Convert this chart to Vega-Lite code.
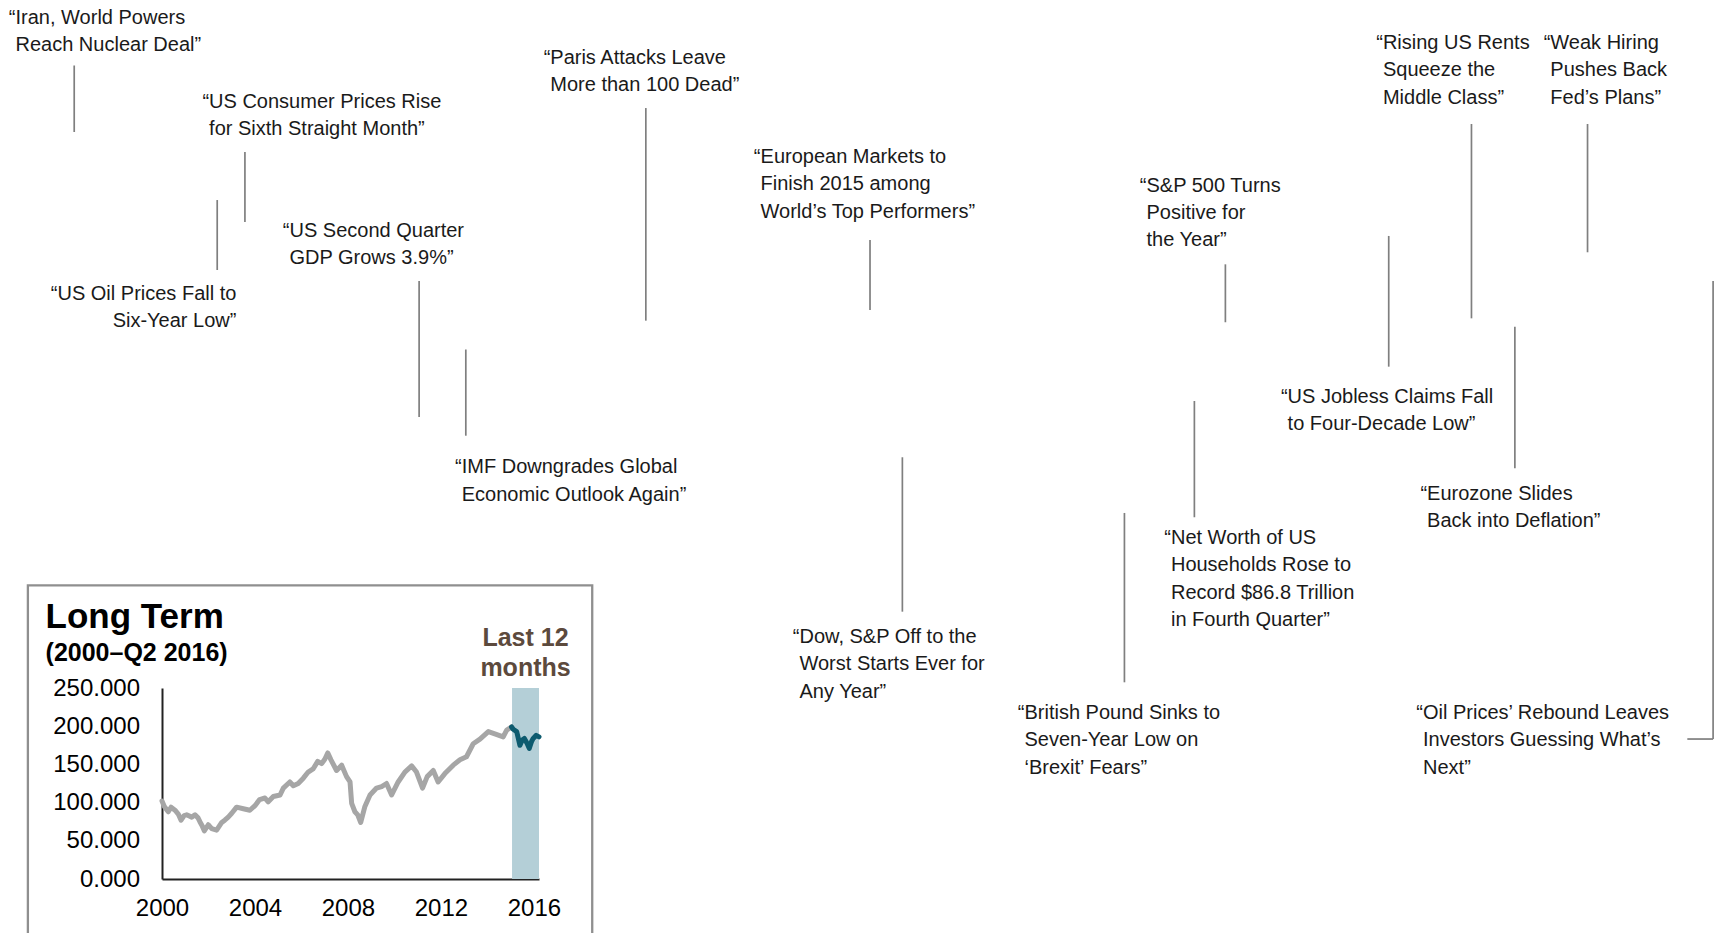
{
  "$schema": "https://vega.github.io/schema/vega-lite/v6.json",
  "usermeta": {"embedOptions": {"actions": false}},
  "width": 1716,
  "height": 933,
  "padding": 0,
  "autosize": {"type": "none"},
  "background": "white",
  "config": {"view": {"stroke": null}, "font": "Liberation Sans"},
  "datasets": {
    "headlines": [
      {"headline": ["Iran, World Powers", "Reach Nuclear Deal”"], "lineDate": "2015-07-13T23:00Z", "lineTop": 7.02, "lineBottom": 14.15, "textDate": "2015-07-01T08:00Z", "textLevel": 2.57},
      {"headline": ["“US Oil Prices Fall to", "Six-Year Low”"], "lineDate": "2015-08-13T17:00Z", "lineTop": 21.44, "lineBottom": 28.94, "textDate": "2015-08-17T20:00Z", "textLevel": 32.15},
      {"headline": ["US Consumer Prices Rise", "for Sixth Straight Month”"], "lineDate": "2015-08-19T16:00Z", "lineTop": 16.29, "lineBottom": 23.79, "textDate": "2015-08-11T23:00Z", "textLevel": 11.58},
      {"headline": ["US Second Quarter", "GDP Grows 3.9%”"], "lineDate": "2015-09-26T03:00Z", "lineTop": 30.12, "lineBottom": 44.69, "textDate": "2015-08-29T06:00Z", "textLevel": 25.40},
      {"headline": ["IMF Downgrades Global", "Economic Outlook Again”"], "lineDate": "2015-10-06T04:00Z", "lineTop": 37.46, "lineBottom": 46.70, "textDate": "2015-10-05T07:00Z", "textLevel": 50.75},
      {"headline": ["Paris Attacks Leave", "More than 100 Dead”"], "lineDate": "2015-11-13T21:00Z", "lineTop": 11.58, "lineBottom": 34.37, "textDate": "2015-10-24T08:00Z", "textLevel": 6.86},
      {"headline": ["European Markets to", "Finish 2015 among", "World’s Top Performers”"], "lineDate": "2016-01-01T02:00Z", "lineTop": 25.72, "lineBottom": 33.23, "textDate": "2015-12-08T13:00Z", "textLevel": 17.44},
      {"headline": ["Dow, S&P Off to the", "Worst Starts Ever for", "Any Year”"], "lineDate": "2016-01-08T01:00Z", "lineTop": 49.01, "lineBottom": 65.56, "textDate": "2015-12-16T22:00Z", "textLevel": 68.90},
      {"headline": ["British Pound Sinks to", "Seven-Year Low on", "‘Brexit’ Fears”"], "lineDate": "2016-02-24T19:00Z", "lineTop": 54.98, "lineBottom": 73.13, "textDate": "2016-02-03T07:00Z", "textLevel": 77.06},
      {"headline": ["Net Worth of US", "Households Rose to", "Record $86.8 Trillion", "in Fourth Quarter”"], "lineDate": "2016-03-10T20:00Z", "lineTop": 42.98, "lineBottom": 55.44, "textDate": "2016-03-05T19:00Z", "textLevel": 58.31},
      {"headline": ["S&P 500 Turns", "Positive for", "the Year”"], "lineDate": "2016-03-17T12:00Z", "lineTop": 28.33, "lineBottom": 34.54, "textDate": "2016-02-29T13:00Z", "textLevel": 20.53},
      {"headline": ["US Jobless Claims Fall", "to Four-Decade Low”"], "lineDate": "2016-04-21T15:00Z", "lineTop": 25.29, "lineBottom": 39.30, "textDate": "2016-03-30T21:00Z", "textLevel": 43.17},
      {"headline": ["Rising US Rents", "Squeeze the", "Middle Class”"], "lineDate": "2016-05-09T10:00Z", "lineTop": 13.29, "lineBottom": 34.12, "textDate": "2016-04-20T09:00Z", "textLevel": 5.23},
      {"headline": ["Eurozone Slides", "Back into Deflation”"], "lineDate": "2016-05-18T18:00Z", "lineTop": 35.02, "lineBottom": 50.19, "textDate": "2016-04-29T21:00Z", "textLevel": 53.54},
      {"headline": ["Weak Hiring", "Pushes Back", "Fed’s Plans”"], "lineDate": "2016-06-03T09:00Z", "lineTop": 13.29, "lineBottom": 27.04, "textDate": "2016-05-26T09:00Z", "textLevel": 5.23},
      {"headline": ["Oil Prices’ Rebound Leaves", "Investors Guessing What’s", "Next”"], "lineDate": "2016-06-30T09:00Z", "lineTop": 30.12, "lineBottom": 79.21, "textDate": "2016-04-29T00:00Z", "textLevel": 77.06, "elbowStart": "2016-06-24T20:00Z"}
    ],
    "longTerm": [
      {"year": 2000.00, "value": 102, "period": "2000–2015"},
      {"year": 2000.10, "value": 95, "period": "2000–2015"},
      {"year": 2000.27, "value": 88, "period": "2000–2015"},
      {"year": 2000.39, "value": 94, "period": "2000–2015"},
      {"year": 2000.56, "value": 90, "period": "2000–2015"},
      {"year": 2000.70, "value": 85, "period": "2000–2015"},
      {"year": 2000.82, "value": 77, "period": "2000–2015"},
      {"year": 2000.95, "value": 83, "period": "2000–2015"},
      {"year": 2001.06, "value": 84, "period": "2000–2015"},
      {"year": 2001.28, "value": 81, "period": "2000–2015"},
      {"year": 2001.42, "value": 84, "period": "2000–2015"},
      {"year": 2001.55, "value": 80, "period": "2000–2015"},
      {"year": 2001.63, "value": 75, "period": "2000–2015"},
      {"year": 2001.72, "value": 70, "period": "2000–2015"},
      {"year": 2001.82, "value": 63, "period": "2000–2015"},
      {"year": 2001.99, "value": 71, "period": "2000–2015"},
      {"year": 2002.14, "value": 66, "period": "2000–2015"},
      {"year": 2002.35, "value": 64, "period": "2000–2015"},
      {"year": 2002.57, "value": 74, "period": "2000–2015"},
      {"year": 2002.70, "value": 77, "period": "2000–2015"},
      {"year": 2002.85, "value": 81, "period": "2000–2015"},
      {"year": 2003.00, "value": 86, "period": "2000–2015"},
      {"year": 2003.21, "value": 94, "period": "2000–2015"},
      {"year": 2003.50, "value": 92, "period": "2000–2015"},
      {"year": 2003.78, "value": 90, "period": "2000–2015"},
      {"year": 2004.00, "value": 96, "period": "2000–2015"},
      {"year": 2004.20, "value": 104, "period": "2000–2015"},
      {"year": 2004.43, "value": 106, "period": "2000–2015"},
      {"year": 2004.57, "value": 101, "period": "2000–2015"},
      {"year": 2004.79, "value": 108, "period": "2000–2015"},
      {"year": 2005.08, "value": 110, "period": "2000–2015"},
      {"year": 2005.22, "value": 119, "period": "2000–2015"},
      {"year": 2005.50, "value": 127, "period": "2000–2015"},
      {"year": 2005.65, "value": 122, "period": "2000–2015"},
      {"year": 2005.86, "value": 125, "period": "2000–2015"},
      {"year": 2006.08, "value": 132, "period": "2000–2015"},
      {"year": 2006.29, "value": 140, "period": "2000–2015"},
      {"year": 2006.50, "value": 144, "period": "2000–2015"},
      {"year": 2006.70, "value": 154, "period": "2000–2015"},
      {"year": 2006.87, "value": 151, "period": "2000–2015"},
      {"year": 2007.01, "value": 157, "period": "2000–2015"},
      {"year": 2007.13, "value": 165, "period": "2000–2015"},
      {"year": 2007.27, "value": 156, "period": "2000–2015"},
      {"year": 2007.51, "value": 142, "period": "2000–2015"},
      {"year": 2007.73, "value": 149, "period": "2000–2015"},
      {"year": 2007.94, "value": 134, "period": "2000–2015"},
      {"year": 2008.09, "value": 127, "period": "2000–2015"},
      {"year": 2008.16, "value": 99, "period": "2000–2015"},
      {"year": 2008.30, "value": 88, "period": "2000–2015"},
      {"year": 2008.42, "value": 84, "period": "2000–2015"},
      {"year": 2008.55, "value": 74, "period": "2000–2015"},
      {"year": 2008.73, "value": 95, "period": "2000–2015"},
      {"year": 2008.95, "value": 110, "period": "2000–2015"},
      {"year": 2009.23, "value": 119, "period": "2000–2015"},
      {"year": 2009.45, "value": 121, "period": "2000–2015"},
      {"year": 2009.66, "value": 125, "period": "2000–2015"},
      {"year": 2009.88, "value": 110, "period": "2000–2015"},
      {"year": 2010.16, "value": 127, "period": "2000–2015"},
      {"year": 2010.45, "value": 140, "period": "2000–2015"},
      {"year": 2010.74, "value": 148, "period": "2000–2015"},
      {"year": 2010.95, "value": 140, "period": "2000–2015"},
      {"year": 2011.21, "value": 119, "period": "2000–2015"},
      {"year": 2011.41, "value": 134, "period": "2000–2015"},
      {"year": 2011.67, "value": 142, "period": "2000–2015"},
      {"year": 2011.88, "value": 127, "period": "2000–2015"},
      {"year": 2012.17, "value": 138, "period": "2000–2015"},
      {"year": 2012.53, "value": 149, "period": "2000–2015"},
      {"year": 2012.82, "value": 156, "period": "2000–2015"},
      {"year": 2013.10, "value": 160, "period": "2000–2015"},
      {"year": 2013.39, "value": 177, "period": "2000–2015"},
      {"year": 2013.68, "value": 183, "period": "2000–2015"},
      {"year": 2014.04, "value": 193, "period": "2000–2015"},
      {"year": 2014.32, "value": 190, "period": "2000–2015"},
      {"year": 2014.68, "value": 186, "period": "2000–2015"},
      {"year": 2014.83, "value": 195, "period": "2000–2015"},
      {"year": 2015.04, "value": 199, "period": "2000–2015"},
      {"year": 2015.04, "value": 199, "period": "Last 12 months"},
      {"year": 2015.11, "value": 196, "period": "Last 12 months"},
      {"year": 2015.26, "value": 193, "period": "Last 12 months"},
      {"year": 2015.40, "value": 175, "period": "Last 12 months"},
      {"year": 2015.50, "value": 182, "period": "Last 12 months"},
      {"year": 2015.59, "value": 184, "period": "Last 12 months"},
      {"year": 2015.70, "value": 178, "period": "Last 12 months"},
      {"year": 2015.80, "value": 171, "period": "Last 12 months"},
      {"year": 2015.90, "value": 180, "period": "Last 12 months"},
      {"year": 2015.97, "value": 184, "period": "Last 12 months"},
      {"year": 2016.10, "value": 188, "period": "Last 12 months"},
      {"year": 2016.22, "value": 186, "period": "Last 12 months"}
    ]
  },
  "layer": [
    {
      "data": {"name": "headlines"},
      "layer": [
        {
          "mark": {"type": "rule", "color": "#7f7f7f", "strokeWidth": 1.7},
          "encoding": {
            "x": {"field": "lineDate", "type": "temporal", "scale": {"type": "utc", "domain": [{"year": 2015, "month": 6, "date": 28, "utc": true}, {"year": 2016, "month": 7, "date": 1, "utc": true}]}, "axis": null},
            "y": {"field": "lineTop", "type": "quantitative", "scale": {"domain": [0, 100], "reverse": true, "nice": false, "zero": false}, "axis": null},
            "y2": {"field": "lineBottom"}
          }
        },
        {
          "transform": [{"filter": "isValid(datum.elbowStart)"}],
          "mark": {"type": "rule", "color": "#7f7f7f", "strokeWidth": 1.7},
          "encoding": {
            "x": {"field": "elbowStart", "type": "temporal", "axis": null},
            "x2": {"field": "lineDate"},
            "y": {"field": "lineBottom", "type": "quantitative", "axis": null}
          }
        },
        {
          "transform": [{"filter": "time(datum.textDate) < time(datum.lineDate)"}],
          "mark": {"type": "text", "align": "left", "baseline": "alphabetic", "fontSize": 20, "lineHeight": 27.4, "color": "#1a1a1a", "font": "Liberation Sans"},
          "encoding": {
            "x": {"field": "textDate", "type": "temporal", "axis": null},
            "y": {"field": "textLevel", "type": "quantitative", "axis": null},
            "text": {"field": "headline", "type": "nominal"}
          }
        },
        {
          "transform": [{"filter": "time(datum.textDate) < time(datum.lineDate)"}],
          "mark": {"type": "text", "align": "right", "baseline": "alphabetic", "fontSize": 20, "color": "#1a1a1a", "font": "Liberation Sans"},
          "encoding": {
            "x": {"field": "textDate", "type": "temporal", "axis": null},
            "y": {"field": "textLevel", "type": "quantitative", "axis": null},
            "text": {"value": "“"}
          }
        },
        {
          "transform": [{"filter": "time(datum.textDate) > time(datum.lineDate)"}],
          "mark": {"type": "text", "align": "right", "baseline": "alphabetic", "fontSize": 20, "lineHeight": 27.4, "color": "#1a1a1a", "font": "Liberation Sans"},
          "encoding": {
            "x": {"field": "textDate", "type": "temporal", "axis": null},
            "y": {"field": "textLevel", "type": "quantitative", "axis": null},
            "text": {"field": "headline", "type": "nominal"}
          }
        }
      ]
    },
    {
      "encoding": {
        "x": {
          "field": "year", "type": "quantitative",
          "scale": {"domain": [2000, 2016.22], "range": [162, 539], "nice": false, "zero": false},
          "axis": {"orient": "bottom", "offset": -54, "values": [2000, 2004, 2008, 2012, 2016], "format": "d", "ticks": false, "tickSize": 0, "labelPadding": 17.5, "labelFontSize": 24, "labelFont": "Liberation Sans", "labelColor": "#000000", "labelFlush": false, "labelOverlap": false, "domainColor": "#222222", "domainWidth": 2, "grid": false, "title": null}
        },
        "y": {
          "field": "value", "type": "quantitative",
          "scale": {"domain": [0, 250], "range": [879, 688], "nice": false, "zero": false},
          "axis": {"orient": "left", "offset": -162, "values": [0, 50, 100, 150, 200, 250], "format": ".3f", "ticks": false, "tickSize": 0, "labelPadding": 22.5, "labelFontSize": 24, "labelFont": "Liberation Sans", "labelColor": "#000000", "labelFlush": false, "labelOverlap": false, "domainColor": "#222222", "domainWidth": 2, "grid": false, "title": null}
        }
      },
      "layer": [
        {
          "data": {"values": [{"year": 1994.23, "year2": 2018.51, "value": -80, "value2": 384.4}]},
          "mark": {"type": "rect", "fill": "#ffffff", "fillOpacity": 0, "stroke": "#8f8f8f", "strokeWidth": 2.3},
          "encoding": {"x2": {"field": "year2"}, "y2": {"field": "value2"}}
        },
        {
          "data": {"values": [{"year": 2015.06, "year2": 2016.22, "value": 0, "value2": 250}]},
          "mark": {"type": "rect", "color": "#b4cfd7"},
          "encoding": {"x2": {"field": "year2"}, "y2": {"field": "value2"}}
        },
        {
          "data": {"name": "longTerm"},
          "mark": {"type": "line", "strokeWidth": 5, "strokeJoin": "round", "strokeCap": "round"},
          "encoding": {
            "color": {"field": "period", "type": "nominal", "scale": {"domain": ["2000–2015", "Last 12 months"], "range": ["#a6a6a6", "#0d5b6f"]}, "legend": null}
          }
        },
        {
          "data": {"values": [{"year": 1994.99, "value": 328.1, "label": "Long Term"}]},
          "mark": {"type": "text", "align": "left", "baseline": "alphabetic", "fontSize": 35, "fontWeight": "bold", "color": "#000000", "font": "Liberation Sans"},
          "encoding": {"text": {"field": "label", "type": "nominal"}}
        },
        {
          "data": {"values": [{"year": 1994.99, "value": 285.3, "label": "(2000–Q2 2016)"}]},
          "mark": {"type": "text", "align": "left", "baseline": "alphabetic", "fontSize": 25, "fontWeight": "bold", "color": "#000000", "font": "Liberation Sans"},
          "encoding": {"text": {"field": "label", "type": "nominal"}}
        },
        {
          "data": {"values": [{"year": 2015.64, "value": 305, "label": ["Last 12", "months"]}]},
          "mark": {"type": "text", "align": "center", "baseline": "alphabetic", "fontSize": 25, "fontWeight": "bold", "lineHeight": 30.5, "color": "#5c4a3d", "font": "Liberation Sans"},
          "encoding": {"text": {"field": "label", "type": "nominal"}}
        }
      ]
    }
  ],
  "resolve": {"scale": {"x": "independent", "y": "independent", "color": "independent"}, "axis": {"x": "independent", "y": "independent"}}
}
